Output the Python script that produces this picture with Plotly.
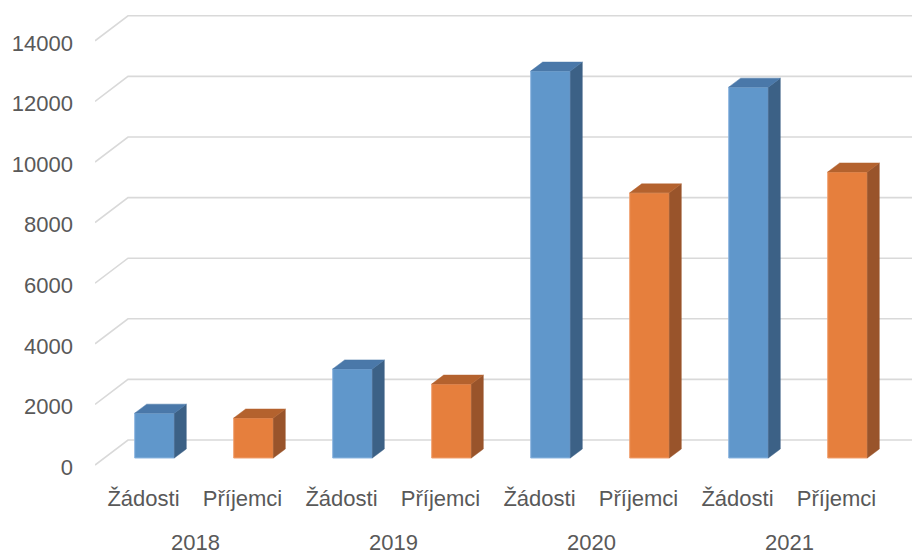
import plotly.graph_objects as go

# ---- data ----
years = ["2018", "2019", "2020", "2021"]
series = ["Žádosti", "Příjemci"]
zadosti = [1480, 2940, 12770, 12240]
prijemci = [1320, 2440, 8750, 9440]
y_ticks = [0, 2000, 4000, 6000, 8000, 10000, 12000, 14000]

# ---- geometry / style (pixel-derived constants) ----
W, H = 912, 555
ML, MR, MT, MB = 95, 0, 0, 80
PX_PER_VAL = 0.0303          # vertical scale
PX_PER_IDX = 99.0            # horizontal spacing of bars
X0_PX = 154.5                # pixel centre of the first bar
BASE_PX = 458                # pixel of value 0 at bar front
plot_h = H - MT - MB

def px_to_idx(px):
    return (px - X0_PX) / PX_PER_IDX

def dv(px):                 # pixel offset -> value units
    return px / PX_PER_VAL

y_lo = -(plot_h - BASE_PX) / PX_PER_VAL
y_hi = BASE_PX / PX_PER_VAL
x_lo = px_to_idx(ML)
x_hi = px_to_idx(W - MR)

half_w = 0.2
depth_x = 12 / PX_PER_IDX
depth_y = dv(9)

front_col = {"Žádosti": "#6097cb", "Příjemci": "#e67f3d"}
side_col = {"Žádosti": "#3c6186", "Příjemci": "#99542b"}
top_col = {"Žádosti": "#4a78a9", "Příjemci": "#b4622e"}
edge_col = {"Žádosti": "#8db6e0", "Příjemci": "#f0a070"}

values = {"Žádosti": zadosti, "Příjemci": prijemci}

fig = go.Figure()

# front faces as bars
for s_i, s in enumerate(series):
    xs = [2 * k + s_i for k in range(len(years))]
    fig.add_trace(go.Bar(
        x=xs, y=values[s], width=2 * half_w, name=s,
        marker=dict(color=front_col[s], line=dict(color=edge_col[s], width=1)),
        hoverinfo="skip", showlegend=False))

# side and top faces
for s_i, s in enumerate(series):
    for k, v in enumerate(values[s]):
        xc = 2 * k + s_i
        xl, xr = xc - half_w, xc + half_w
        # side face
        fig.add_trace(go.Scatter(
            x=[xr, xr + depth_x, xr + depth_x, xr, xr],
            y=[0, depth_y, v + depth_y, v, 0],
            fill="toself", fillcolor=side_col[s], mode="lines",
            line=dict(color=side_col[s], width=0.5),
            hoverinfo="skip", showlegend=False))
        # top face
        fig.add_trace(go.Scatter(
            x=[xl, xl + depth_x, xr + depth_x, xr, xl],
            y=[v, v + depth_y, v + depth_y, v, v],
            fill="toself", fillcolor=top_col[s], mode="lines",
            line=dict(color=top_col[s], width=0.5),
            hoverinfo="skip", showlegend=False))

# back-wall gridlines with slanted side-wall segment
shapes = []
x_side = px_to_idx(128)
for t in y_ticks:
    yf = t - dv(7)
    yb = t + dv(18)
    shapes.append(dict(
        type="path", xref="x", yref="y", layer="below",
        path=f"M {x_lo},{yf} L {x_side},{yb} L {x_hi},{yb}",
        line=dict(color="#d9d9d9", width=1.6)))

# year labels
annotations = []
for k, yr in enumerate(years):
    annotations.append(dict(
        x=2 * k + 0.5 - 0.09, xref="x",
        y=-(542 - plot_h) / plot_h, yref="paper",
        text=yr, showarrow=False, yanchor="middle", xanchor="center",
        borderpad=0, height=22, valign="middle",
        font=dict(family="Liberation Sans", size=22, color="#595959")))

cat_labels = [series[i % 2] for i in range(2 * len(years))]

fig.update_layout(
    width=W, height=H,
    margin=dict(l=ML, r=MR, t=MT, b=MB),
    paper_bgcolor="white", plot_bgcolor="white",
    shapes=shapes, annotations=annotations,
    font=dict(family="Liberation Sans", size=22, color="#595959"),
    barmode="overlay",
    xaxis=dict(range=[x_lo, x_hi], showgrid=False, zeroline=False, showline=False,
               ticks="", tickmode="array",
               tickvals=[i - 11 / PX_PER_IDX for i in range(len(cat_labels))],
               ticktext=cat_labels, ticklabelstandoff=8,
               tickfont=dict(family="Liberation Sans", size=22, color="#595959")),
    yaxis=dict(range=[y_lo, y_hi], showgrid=False, zeroline=False, showline=False,
               ticks="", tickmode="array",
               tickvals=[t - dv(9) for t in y_ticks],
               ticktext=[str(t) for t in y_ticks], ticklabelstandoff=21,
               tickfont=dict(family="Liberation Sans", size=22, color="#595959")),
)

fig.write_html("out.html", config={"displayModeBar": False})
